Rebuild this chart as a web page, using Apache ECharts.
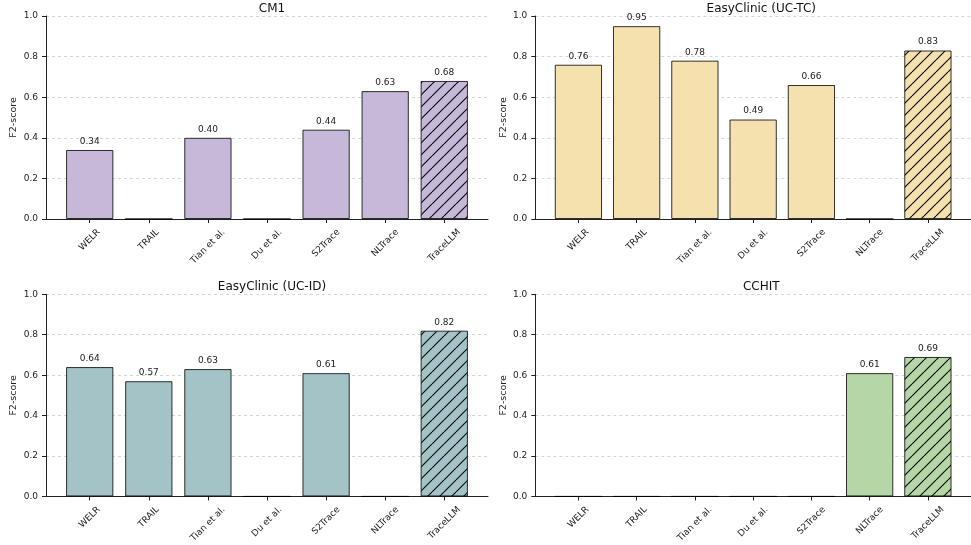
<!DOCTYPE html>
<html><head><meta charset="utf-8">
<script src="https://cdn.jsdelivr.net/npm/echarts@6/dist/echarts.min.js"></script>
<style>html,body{margin:0;padding:0;background:#fff}#c{width:971px;height:545px}</style>
</head><body><div id="c"></div>
<script>
// ---- data ----
const methods = ['WELR', 'TRAIL', 'Tian et al.', 'Du et al.', 'S2Trace', 'NLTrace', 'TraceLLM'];
const datasets = ['CM1', 'EasyClinic (UC-TC)', 'EasyClinic (UC-ID)', 'CCHIT'];
const cm1 = [0.34, 0, 0.40, 0, 0.44, 0.63, 0.68];
const ucTc = [0.76, 0.95, 0.78, 0.49, 0.66, 0, 0.83];
const ucId = [0.64, 0.57, 0.63, 0, 0.61, 0, 0.82];
const cchit = [0, 0, 0, 0, 0, 0.61, 0.69];
const yTicks = [0, 0.2, 0.4, 0.6, 0.8, 1.0];
const hatchedMethod = 'TraceLLM';

// ---- style ----
const panelValues = [cm1, ucTc, ucId, cchit];
const panelColors = ['#c5b8d8', '#f5e1ad', '#a3c3c7', '#b5d6a7'];
const FONT = 'DejaVu Sans';
const lefts = [46, 535.3, 46, 535.3];
const tops = [16, 16, 294.3, 294.3];
const W = 442, H = 203;
const XMIN = -0.74, XMAX = methods.length - 1 + 0.74;
const unit = W / (XMAX - XMIN);

function hatch(bg) {
  const s = 12, c = document.createElement('canvas');
  c.width = s; c.height = s;
  const g = c.getContext('2d');
  g.fillStyle = bg; g.fillRect(0, 0, s, s);
  g.strokeStyle = '#111'; g.lineWidth = 1.2;
  for (let k = -1; k <= 1; k++) { g.beginPath(); g.moveTo(k * s, s); g.lineTo(k * s + s, 0); g.stroke(); }
  return { image: c, repeat: 'repeat' };
}

const mctx = document.createElement('canvas').getContext('2d');
mctx.font = '9px "' + FONT + '"';
const rich = {};
methods.forEach((m, i) => {
  const w = mctx.measureText(m).width;
  const p = (w + 10.5) / 2;
  rich['t' + i] = { fontSize: 9, color: '#222', fontFamily: FONT, padding: [p, p, 0, 0] };
});
const idx = methods.map((m, i) => i);

const option = { animation: false, textStyle: { fontFamily: FONT }, title: [], grid: [], xAxis: [], yAxis: [], series: [] };
datasets.forEach((name, p) => {
  option.title.push({ text: name, left: lefts[p] + W / 2, top: p < 2 ? -2 : 276, textAlign: 'center',
    textStyle: { fontSize: 12, fontWeight: 'normal', color: '#111', fontFamily: FONT } });
  option.grid.push({ left: lefts[p], top: tops[p], width: W, height: H });
  option.xAxis.push({ type: 'value', gridIndex: p, min: XMIN, max: XMAX,
    axisLine: { show: true, onZero: false, lineStyle: { color: '#222', width: 1 } },
    axisTick: { show: true, length: 4, customValues: idx, lineStyle: { color: '#222' } },
    axisLabel: { customValues: idx, rotate: 45, margin: 8, align: 'center', verticalAlign: 'middle',
      formatter: v => '{t' + Math.round(v) + '|' + methods[Math.round(v)] + '}', rich: rich },
    splitLine: { show: false } });
  option.yAxis.push({ type: 'value', gridIndex: p, min: 0, max: 1, interval: 0.2,
    name: 'F2-score', nameLocation: 'middle', nameGap: 27, nameRotate: 90,
    nameTextStyle: { fontSize: 9.5, color: '#222', fontFamily: FONT },
    axisLine: { show: true, onZero: false, lineStyle: { color: '#222', width: 1 } },
    axisTick: { show: true, length: 4, lineStyle: { color: '#222' } },
    axisLabel: { fontSize: 9, color: '#222', margin: 8, formatter: v => v.toFixed(1) },
    splitLine: { show: true, lineStyle: { color: '#cccccc', type: [3, 3], width: 0.8 } } });
  const vals = panelValues[p];
  option.series.push({ type: 'bar', xAxisIndex: p, yAxisIndex: p, barWidth: 0.8 * unit,
    itemStyle: { color: panelColors[p], borderColor: 'rgba(0,0,0,0.8)', borderWidth: 1 },
    label: { show: true, position: 'top', distance: 4, fontSize: 9, color: '#222', fontFamily: FONT,
      formatter: q => q.value[1] > 0 ? q.value[1].toFixed(2) : '' },
    data: methods.map((m, i) => ({ value: [i, vals[i]],
      itemStyle: m === hatchedMethod ? { color: hatch(panelColors[p]) } : undefined })) });
});
const chart = echarts.init(document.getElementById('c'), null, { renderer: 'canvas' });
chart.setOption(option);
</script></body></html>
